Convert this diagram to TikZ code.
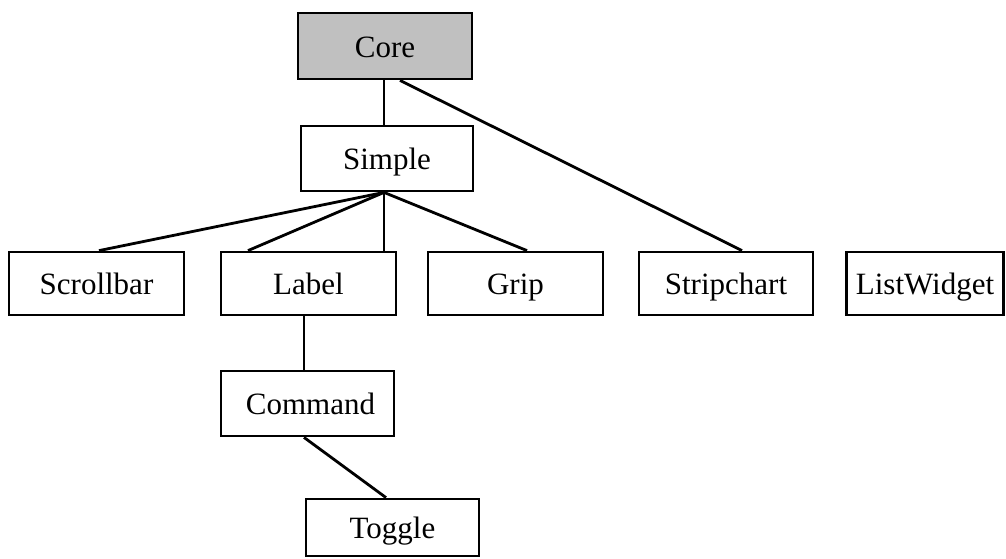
\documentclass[tikz,border=0pt]{standalone}
\usepackage{fontspec}
\setmainfont{Liberation Serif}
\begin{document}
\begin{tikzpicture}[x=1pt,y=-1pt,
  box/.style={draw=black,line width=2.8pt,fill=white,inner sep=0pt,minimum width=174pt,minimum height=64pt,text height=24pt,text depth=2pt,font=\fontsize{31}{36}\selectfont},
  link/.style={draw=black,line width=2.8pt}]
\useasboundingbox (0,0) rectangle (1006,558);
\node[box,fill={rgb,255:red,192;green,192;blue,192},minimum width=174pt,minimum height=66pt] (core) at (385,46) {Core};
\node[box,minimum width=172pt,minimum height=65pt] (simple) at (387,158.5) {Simple};
\node[box,minimum width=175pt,minimum height=63pt] (scroll) at (96.5,283.5) {Scrollbar};
\node[box,minimum width=175pt,minimum height=63pt] (label) at (308.5,283.5) {Label};
\node[box,minimum width=175pt,minimum height=63pt] (grip) at (515.5,283.5) {Grip};
\node[box,minimum width=174pt,minimum height=63pt] (strip) at (726,283.5) {Stripchart};
\node[box,minimum width=157pt,minimum height=63pt] (list) at (925,283.5) {ListWidget};
\node[box,minimum width=173pt,minimum height=65pt] (command) at (307.5,403.5) {\hspace{6pt}Command};
\node[box,minimum width=173pt,minimum height=57pt] (toggle) at (392.5,527.5) {Toggle};
\draw[link] ([xshift=-1pt]core.south) -- ([xshift=-3pt]simple.north);
\draw[link] ([xshift=15pt]core.south) -- ([xshift=16pt]strip.north);
\draw[link] ([xshift=-3pt]simple.south) -- ([xshift=2.5pt]scroll.north);
\draw[link] ([xshift=-3pt]simple.south) -- ([xshift=-60.5pt]label.north);
\draw[link] ([xshift=-3pt]simple.south) -- ([xshift=75.5pt]label.north);
\draw[link] ([xshift=-3pt]simple.south) -- ([xshift=11.5pt]grip.north);
\draw[link] ([xshift=-4.5pt]label.south) -- ([xshift=-3.5pt]command.north);
\draw[link] ([xshift=-3.5pt]command.south) -- ([xshift=-6.5pt]toggle.north);
\end{tikzpicture}
\end{document}
